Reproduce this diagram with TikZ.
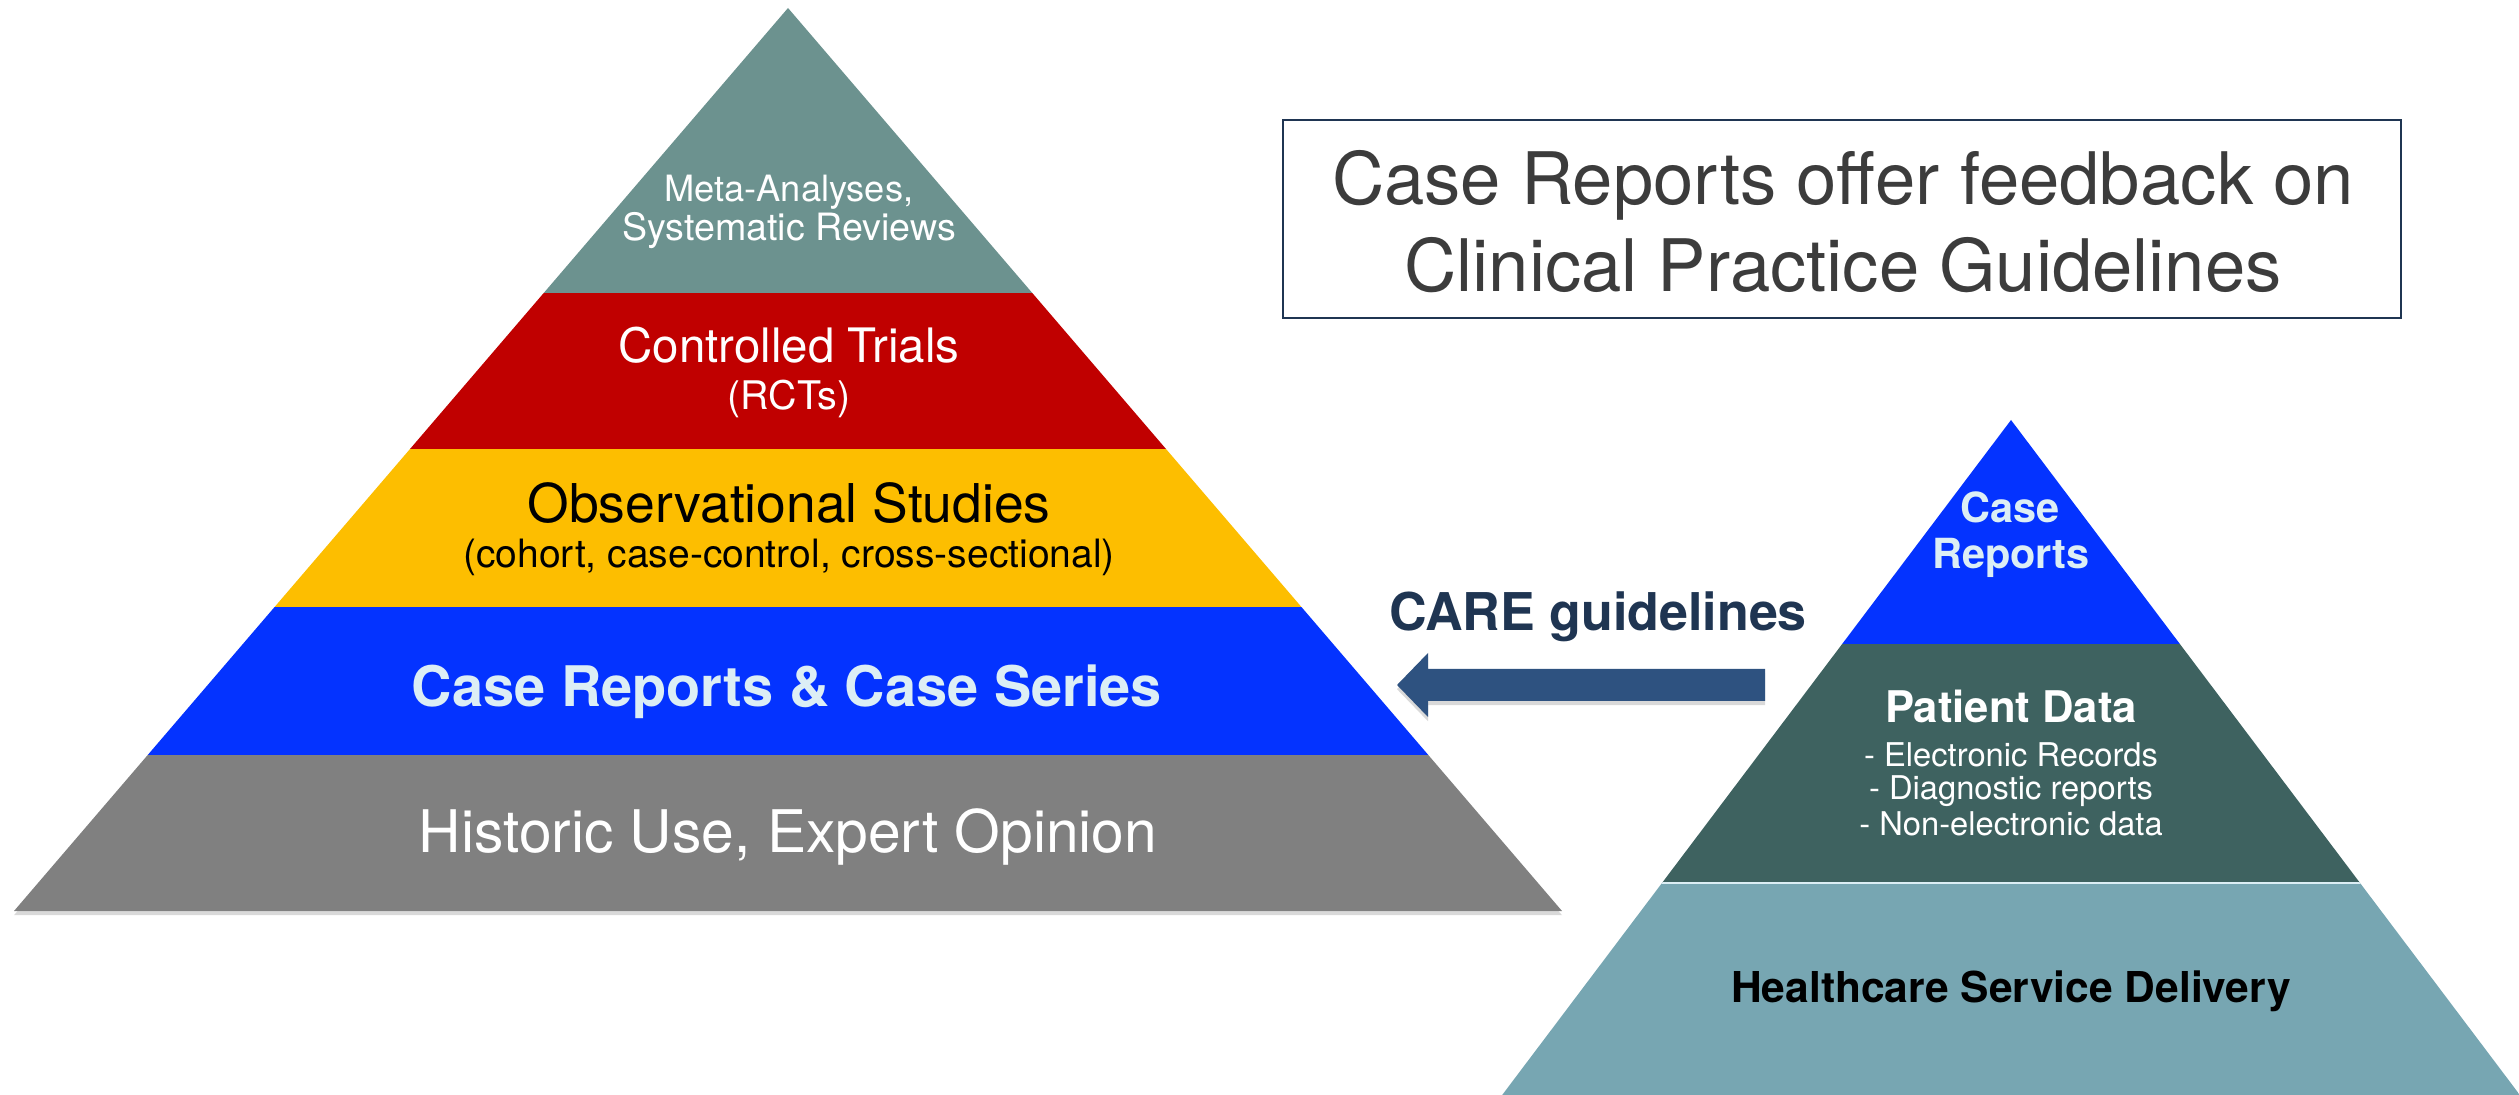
\documentclass[tikz,border=0pt]{standalone}
\usepackage{fontspec}
\setmainfont{TeX Gyre Heros}
\usetikzlibrary{shadows}

\definecolor{metateal}{HTML}{6C928F}
\definecolor{rctred}{HTML}{C00000}
\definecolor{obsyellow}{HTML}{FDBE00}
\definecolor{caseblue}{HTML}{0433FF}
\definecolor{histgray}{HTML}{808080}
\definecolor{datateal}{HTML}{3E6260}
\definecolor{careteal}{HTML}{77A6B2}
\definecolor{arrowblue}{HTML}{2E5280}
\definecolor{navytext}{HTML}{1F3552}
\definecolor{paleblue}{HTML}{DCEEF5}
\definecolor{boxtext}{HTML}{3C3C3C}

\newcommand{\fsz}[1]{\fontsize{#1}{#1}\selectfont}

\tikzset{
	lbl/.style={anchor=base, inner sep=0pt},
	softshadow/.style={drop shadow={shadow xshift=0pt, shadow yshift=-1.2pt, opacity=.3}},
}

\begin{document}
\begin{tikzpicture}[x=0.01cm,y=-0.01cm]
		\useasboundingbox (0,0) rectangle (2519,1095);
		% evidence pyramid
		\coordinate (top) at (788,8);
		\coordinate (bl) at (14,911);
		\coordinate (br) at (1562,911);
		\fill[white, softshadow] (top) -- (bl) -- (br) -- cycle;
		\begin{scope}
			\clip (top) -- (bl) -- (br) -- cycle;
			\fill[metateal] (0,0) rectangle (1600,293);
			\fill[rctred] (0,293) rectangle (1600,449);
			\fill[obsyellow] (0,449) rectangle (1600,607);
			\fill[caseblue] (0,607) rectangle (1600,755);
			\fill[histgray] (0,755) rectangle (1600,912);
		\end{scope}
		\node[lbl, white] (meta1) at (789,202) {\fsz{10.3pt}Meta-Analyses,};
		\node[lbl, white] (meta2) at (789,241) {\fsz{10.7pt}Systematic Reviews};
		\node[lbl, white] (rct) at (789,363) {\fsz{13.5pt}Controlled Trials};
		\node[lbl, white] (rctabbr) at (789,410) {\fsz{11.2pt}(RCTs)};
		\node[lbl] (obs) at (789,523) {\fsz{15.2pt}Observational Studies};
		\node[lbl] (obsnote) at (789,568) {\fsz{11.1pt}(cohort, case-control, cross-sectional)};
		\node[lbl, paleblue] (series) at (787,707) {\fsz{15.9pt}\bfseries Case Reports \& Case Series};
		\node[lbl, white] (hist) at (788,852) {\fsz{16.7pt}Historic Use, Expert Opinion};
		% feedback box
		\node[draw=navytext, line width=.6pt, minimum width=11.18cm, minimum height=1.98cm] (claim) at (1842,219) {};
		\node[lbl, boxtext] (claim1) at (1843,205) {\fsz{20.6pt}Case Reports offer feedback on};
		\node[lbl, boxtext] (claim2) at (1843,292) {\fsz{20.6pt}Clinical Practice Guidelines};
		% CARE arrow
		\coordinate (tip) at (1397,685);
		\coordinate (tailtop) at (1765,669);
		\coordinate (tailbot) at (1765,701);
		\fill[arrowblue, softshadow] (tailtop) -- (1428,669) -- (1428,653) -- (tip) -- (1428,717) -- (1428,701) -- (tailbot) -- cycle;
		\node[lbl, navytext] (care) at (1598,631) {\fsz{14.8pt}\bfseries CARE guidelines};
		% practice pyramid
		\begin{scope}
			\clip (0,0) rectangle (2519,1095);
			\clip (2011,420) -- (1423,1200) -- (2599,1200) -- cycle;
			\fill[caseblue] (1400,400) rectangle (2600,644);
			\fill[datateal] (1400,644) rectangle (2600,883);
			\fill[careteal] (1400,883) rectangle (2600,1200);
			\draw[paleblue, line width=.5pt] (1400,883) -- (2600,883);
		\end{scope}
		\node[lbl, paleblue] (rcase) at (2010,523) {\fsz{11.8pt}\bfseries Case};
		\node[lbl, paleblue] (rreports) at (2011,569) {\fsz{11.8pt}\bfseries Reports};
		\node[lbl, white] (pdata) at (2011,723) {\fsz{12.4pt}\bfseries Patient Data};
		\node[lbl, white] (pdata1) at (2011,767) {\fsz{9.3pt}- Electronic Records};
		\node[lbl, white] (pdata2) at (2011,800) {\fsz{9.3pt}- Diagnostic reports};
		\node[lbl, white] (pdata3) at (2011,835) {\fsz{9.3pt}- Non-electronic data};
		\node[lbl] (delivery) at (2011,1002) {\fsz{12.1pt}\bfseries Healthcare Service Delivery};
\end{tikzpicture}
\end{document}
